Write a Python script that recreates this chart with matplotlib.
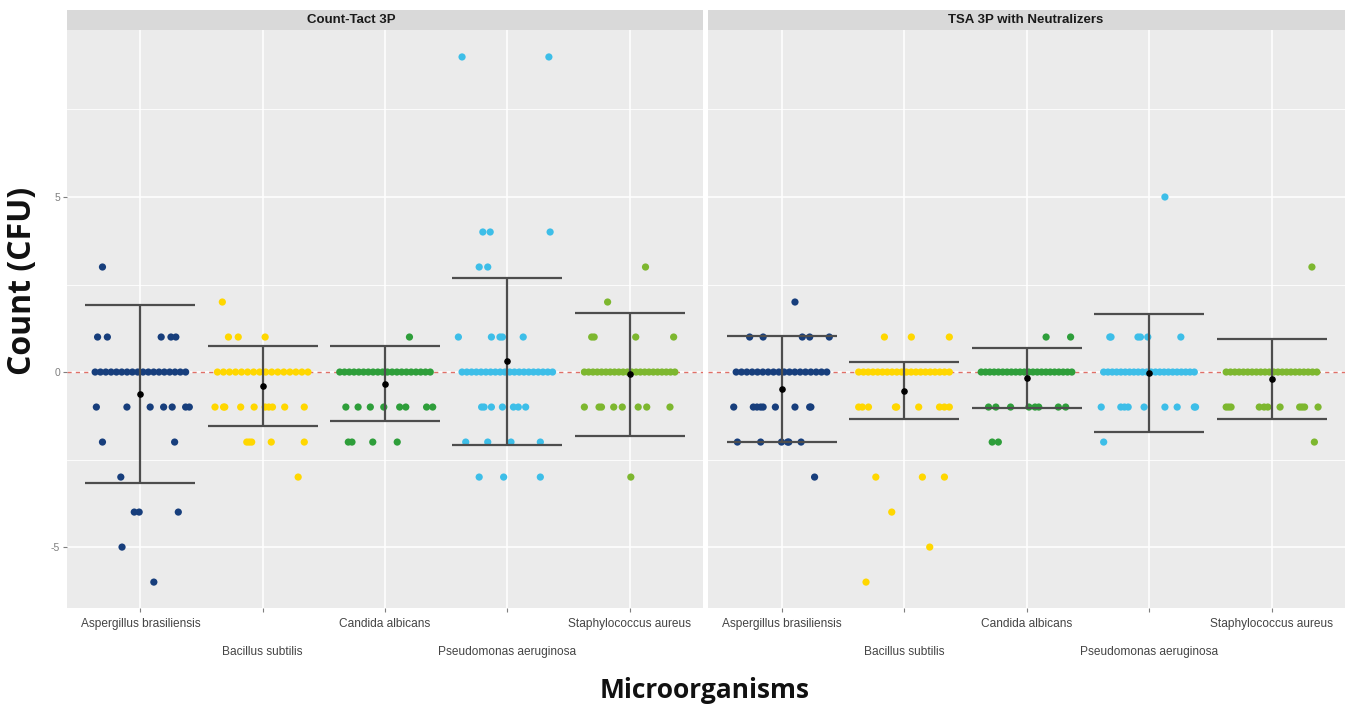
import numpy as np
import matplotlib.pyplot as plt

plt.rcParams['axes.unicode_minus'] = False

species = ['Aspergillus brasiliensis', 'Bacillus subtilis', 'Candida albicans',
           'Pseudomonas aeruginosa', 'Staphylococcus aureus']
colors = ['#173E7C', '#FFD700', '#2E9E3A', '#3DBEE8', '#7DB72F']
panels = ['Count-Tact 3P', 'TSA 3P with Neutralizers']

# --- Count-Tact 3P: non-zero counts and the horizontal jitter
ct_vals = [
    [3, 1, 1, 1, 1, 1, -1, -1, -1, -1, -1, -1, -1, -2, -2, -3, -4, -4, -4, -5, -6],
    [2, 1, 1, 1, -1, -1, -1, -1, -1, -1, -1, -1, -1, -1, -2, -2, -2, -2, -2, -3],
    [1, -1, -1, -1, -1, -1, -1, -1, -1, -2, -2, -2, -2],
    [9, 9, 4, 4, 4, 3, 3, 1, 1, 1, 1, 1, -1, -1, -1, -1, -1, -1, -1,
     -2, -2, -2, -2, -3, -3, -3],
    [3, 2, 1, 1, 1, 1, -1, -1, -1, -1, -1, -1, -1, -1, -3],
]
ct_jit = [
    [-0.31, -0.35, -0.27, 0.17, 0.25, 0.29, -0.36, -0.11, 0.08, 0.19, 0.26, 0.37, 0.40,
     -0.31, 0.28, -0.16, -0.05, -0.01, 0.31, -0.15, 0.11],
    [-0.33, -0.28, -0.20, 0.02, -0.39, -0.32, -0.31, -0.18, -0.07, 0.02, 0.05, 0.08, 0.18, 0.34,
     -0.13, -0.11, -0.09, 0.07, 0.34, 0.29],
    [0.20, -0.32, -0.22, -0.12, -0.01, 0.12, 0.17, 0.34, 0.39, -0.30, -0.27, -0.10, 0.10],
    [-0.37, 0.34, -0.20, -0.14, 0.35, -0.23, -0.16, -0.40, -0.13, -0.06, -0.04, 0.13,
     -0.21, -0.19, -0.13, -0.04, 0.05, 0.09, 0.15, -0.34, -0.16, 0.03, 0.27, -0.23, -0.03, 0.27],
    [0.13, -0.18, -0.31, -0.29, 0.05, 0.36, -0.37, -0.25, -0.23, -0.13, -0.06, 0.07, 0.14, 0.33,
     0.01],
]
ct_zeros = [18, 16, 20, 20, 22]
ct_mean = [-0.63, -0.40, -0.33, 0.31, -0.07]
ct_sd = [2.54, 1.14, 1.06, 2.38, 1.76]

# --- TSA 3P with Neutralizers
tsa_vals = [
    [2, 1, 1, 1, 1, 1, -1, -1, -1, -1, -1, -1, -1, -1, -1, -2, -2, -2, -2, -2, -2, -3],
    [1, 1, 1, -1, -1, -1, -1, -1, -1, -1, -1, -1, -3, -3, -3, -4, -5, -6],
    [1, 1, -1, -1, -1, -1, -1, -1, -1, -1, -2, -2],
    [5, 1, 1, 1, 1, 1, 1, -1, -1, -1, -1, -1, -1, -1, -1, -1, -2],
    [3, -1, -1, -1, -1, -1, -1, -1, -1, -1, -1, -1, -2],
]
tsa_jit = [
    [0.11, -0.26, -0.15, 0.17, 0.23, 0.39, -0.39, -0.23, -0.20, -0.17, -0.15, -0.05, 0.11, 0.23,
     0.24, -0.36, -0.17, 0.0, 0.05, 0.06, 0.16, 0.27],
    [-0.16, 0.06, 0.37, -0.37, -0.34, -0.29, -0.07, -0.06, 0.12, 0.29, 0.33, 0.37,
     -0.23, 0.15, 0.33, -0.10, 0.21, -0.31],
    [0.16, 0.36, -0.31, -0.25, -0.13, 0.02, 0.07, 0.10, 0.26, 0.32, -0.28, -0.23],
    [0.13, -0.32, -0.31, -0.09, -0.07, -0.01, 0.26, -0.39, -0.23, -0.20, -0.17, -0.04, 0.13,
     0.23, 0.37, 0.38, -0.37],
    [0.33, -0.37, -0.35, -0.33, -0.10, -0.06, -0.03, 0.07, 0.23, 0.25, 0.27, 0.38, 0.35],
]
tsa_zeros = [18, 20, 22, 22, 22]
tsa_mean = [-0.48, -0.53, -0.17, -0.03, -0.19]
tsa_sd = [1.52, 0.82, 0.86, 1.69, 1.14]

W, H = 1345, 709
fig = plt.figure(figsize=(W / 100, H / 100), dpi=100)
fig.patch.set_facecolor('white')

Y0, Y1 = 30, 608   # panel top / bottom in pixels


def draw_panel(x0, x1, title, title_x, vals, jit, zeros, mean, sd, show_y):
    ax = fig.add_axes([x0 / W, 1 - Y1 / H, (x1 - x0) / W, (Y1 - Y0) / H])
    ax.set_facecolor('#EBEBEB')
    for s in ax.spines.values():
        s.set_visible(False)

    ax.set_xlim(-0.6, 4.6)
    ax.set_ylim(-6.74, 9.77)

    # ggplot style grid
    for y in [-5, 0, 5]:
        ax.axhline(y, color='white', lw=1.1, zorder=0)
    for y in [-2.5, 2.5, 7.5]:
        ax.axhline(y, color='white', lw=0.6, zorder=0)
    for i in range(len(species)):
        ax.axvline(i, color='white', lw=1.1, zorder=0)

    ax.axhline(0, color='#E07068', lw=1.0, ls=(0, (3, 3)), zorder=1)

    for i in range(len(species)):
        x = i + np.array(jit[i])
        ax.scatter(x, vals[i], s=27, color=colors[i], edgecolors='none', zorder=2)
        zx = i + np.linspace(-0.37, 0.37, zeros[i])
        ax.scatter(zx, np.zeros(zeros[i]), s=27, color=colors[i], edgecolors='none', zorder=2)

    ax.errorbar(range(len(species)), mean, yerr=sd, fmt='none', ecolor='#4D4D4D',
                elinewidth=1.6, capsize=39.5, capthick=1.6, zorder=3)
    ax.scatter(range(len(species)), mean, s=14, color='black', zorder=4)

    ax.set_xticks(range(len(species)))
    ax.set_xticklabels(species, fontsize=8.6, color='#444444', family='Liberation Sans')
    ax.tick_params(axis='x', length=3, color='#7F7F7F', width=0.8)
    for i, t in enumerate(ax.xaxis.get_major_ticks()):
        t.set_pad(4.5 if i % 2 == 0 else 24.5)

    ax.set_yticks([-5, 0, 5])
    if show_y:
        ax.set_yticklabels(['-5', '0', '5'], fontsize=7.5, color='#7F7F7F',
                           family='Liberation Sans')
        ax.tick_params(axis='y', length=3, color='#7F7F7F', width=0.8, pad=2)
    else:
        ax.tick_params(axis='y', length=0, labelleft=False)

    # facet strip
    st = fig.add_axes([x0 / W, 1 - Y0 / H, (x1 - x0) / W, 20 / H])
    st.set_facecolor('#D9D9D9')
    st.set_xticks([])
    st.set_yticks([])
    for s in st.spines.values():
        s.set_visible(False)
    st.text((title_x - x0) / (x1 - x0), 0.5, title, ha='center', va='center', fontsize=9.5,
            fontweight='bold', color='#1A1A1A', family='Liberation Sans',
            transform=st.transAxes)
    return ax


draw_panel(67, 703, panels[0], 351, ct_vals, ct_jit, ct_zeros, ct_mean, ct_sd, True)
draw_panel(708, 1345, panels[1], 1026, tsa_vals, tsa_jit, tsa_zeros, tsa_mean, tsa_sd, False)

fig.text(705 / W, 1 - 691 / H, 'Microorganisms', ha='center', va='center',
         fontsize=19, fontweight='bold', family='Open Sans', color='#111111')
fig.text(23 / W, 1 - 281 / H, 'Count (CFU)', ha='center', va='center', rotation=90,
         fontsize=23, fontweight='bold', family='Open Sans', color='#111111')

fig.savefig('out.png', dpi=100)
